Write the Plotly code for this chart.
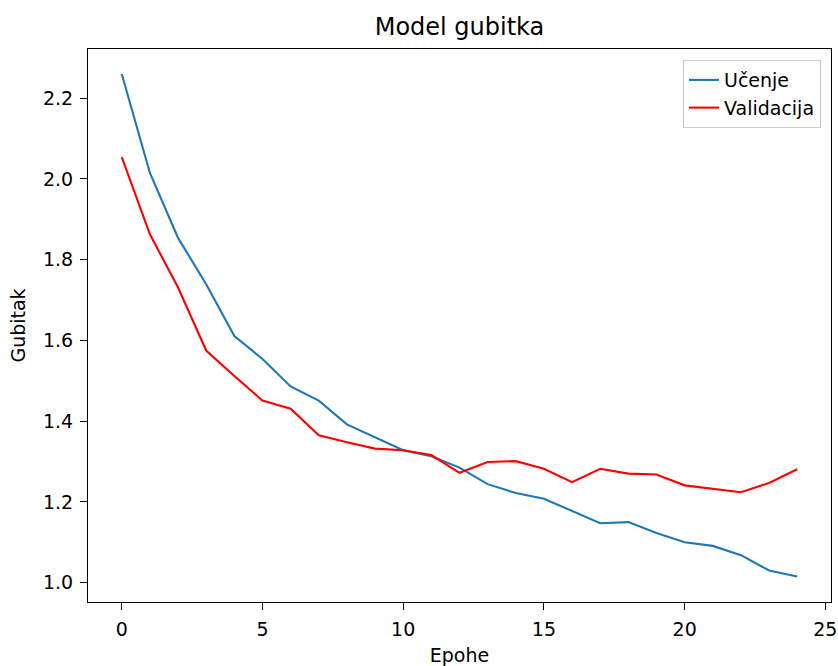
import plotly.graph_objects as go

epochs = list(range(25))
train_loss = [2.260, 2.015, 1.854, 1.739, 1.611, 1.554, 1.486, 1.451, 1.392, 1.360,
              1.328, 1.313, 1.285, 1.244, 1.222, 1.208, 1.177, 1.147, 1.150, 1.123,
              1.100, 1.091, 1.068, 1.030, 1.015]
val_loss = [2.054, 1.863, 1.731, 1.575, 1.512, 1.451, 1.431, 1.365, 1.348, 1.332,
            1.328, 1.316, 1.272, 1.299, 1.301, 1.282, 1.249, 1.282, 1.270, 1.268,
            1.241, 1.233, 1.224, 1.247, 1.281]
x_ticks = [0, 5, 10, 15, 20, 25]
y_ticks = [1.0, 1.2, 1.4, 1.6, 1.8, 2.0, 2.2]

FONT = "DejaVu Sans"
BASE = 19

fig = go.Figure()
fig.add_trace(go.Scatter(x=epochs, y=train_loss, mode="lines", name="Učenje",
                         line=dict(color="#1f77b4", width=2.1)))
fig.add_trace(go.Scatter(x=epochs, y=val_loss, mode="lines", name="Validacija",
                         line=dict(color="#ff0000", width=2.1)))

fig.update_layout(
    width=838, height=666,
    margin=dict(l=88, r=7, t=49, b=64, autoexpand=False),
    paper_bgcolor="white", plot_bgcolor="white",
    font=dict(family=FONT, size=BASE, color="#000000"),
    title=dict(text="Model gubitka", font=dict(family=FONT, size=24, color="#000000"),
               x=0.5, xref="paper", xanchor="center",
               y=1, yref="paper", yanchor="bottom", pad=dict(b=14), automargin=False),
    showlegend=True,
    legend=dict(x=0.9865, y=0.98, xanchor="right", yanchor="top",
                bgcolor="rgba(255,255,255,0.8)", bordercolor="#cccccc", borderwidth=1,
                font=dict(family=FONT, size=BASE, color="#000000"),
                tracegroupgap=4, entrywidth=112, entrywidthmode="pixels"),
)
fig.update_xaxes(range=[-1.2, 25.2], tickvals=x_ticks, ticks="outside", ticklen=7,
                 tickwidth=1.2, tickcolor="black", showline=True, linecolor="black",
                 linewidth=1.2, mirror=True, showgrid=False, zeroline=False,
                 automargin=False, tickfont=dict(size=BASE), ticklabelstandoff=3,
                 title=dict(text="Epohe", standoff=10, font=dict(size=BASE)))
fig.update_yaxes(range=[0.952, 2.322], tickvals=y_ticks, tickformat=".1f",
                 ticks="outside", ticklen=7, tickwidth=1.2, tickcolor="black",
                 showline=True, linecolor="black", linewidth=1.2, mirror=True,
                 showgrid=False, zeroline=False, automargin=False,
                 tickfont=dict(size=BASE), ticklabelstandoff=3,
                 title=dict(text="Gubitak", standoff=12, font=dict(size=BASE)))

fig.write_html("out.html", config={"displayModeBar": False},
               post_script="document.body.style.margin='0';document.body.style.overflow='hidden';")
